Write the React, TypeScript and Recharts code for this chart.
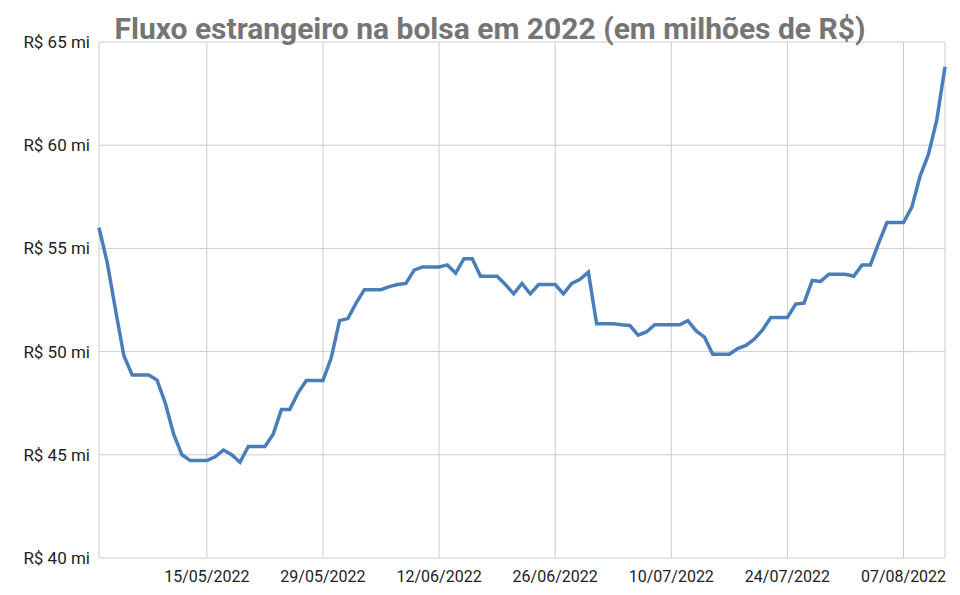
import React from 'react';
import { LineChart, Line, XAxis, YAxis, CartesianGrid } from 'recharts';

// one value per calendar day, 02/05/2022 .. 12/08/2022 (weekends repeat Friday)
const startDate = '2022-05-02';

const fluxo = [
  56.0, 54.3, 52.0, 49.8, 48.87, 48.87, 48.87,
  48.62, 47.5, 46.0, 45.0, 44.72, 44.72, 44.72,
  44.9, 45.23, 45.0, 44.64, 45.4, 45.4, 45.4,
  46.0, 47.2, 47.2, 48.0, 48.6, 48.6, 48.6,
  49.7, 51.5, 51.6, 52.35, 53.0, 53.0, 53.0,
  53.15, 53.25, 53.3, 53.95, 54.1, 54.1, 54.1,
  54.2, 53.8, 54.5, 54.5, 53.65, 53.65, 53.65,
  53.25, 52.8, 53.3, 52.8, 53.25, 53.25, 53.25,
  52.8, 53.3, 53.5, 53.85, 51.35, 51.35, 51.35,
  51.3, 51.27, 50.8, 50.95, 51.3, 51.3, 51.3,
  51.3, 51.5, 51.0, 50.7, 49.87, 49.87, 49.87,
  50.15, 50.3, 50.6, 51.05, 51.65, 51.65, 51.65,
  52.3, 52.35, 53.45, 53.4, 53.75, 53.75, 53.75,
  53.65, 54.2, 54.2, 55.25, 56.25, 56.25, 56.25,
  57.0, 58.5, 59.55, 61.2, 63.8,
];

const xTickLabels = ['15/05/2022', '29/05/2022', '12/06/2022', '26/06/2022', '10/07/2022', '24/07/2022', '07/08/2022'];
const yTicks = [40, 45, 50, 55, 60, 65];

const fmtDate = (d: Date) => {
  const dd = String(d.getUTCDate()).padStart(2, '0');
  const mm = String(d.getUTCMonth() + 1).padStart(2, '0');
  return `${dd}/${mm}/${d.getUTCFullYear()}`;
};

const dates = fluxo.map((_, i) => {
  const d = new Date(startDate + 'T00:00:00Z');
  d.setUTCDate(d.getUTCDate() + i);
  return fmtDate(d);
});

const data = fluxo.map((v, i) => ({ i, date: dates[i], fluxo: v }));
const xTicks = xTickLabels.map((l) => dates.indexOf(l));

const font = 'Roboto, "Noto Sans", sans-serif';

export default function App() {
  return (
    <div style={{ position: 'relative', width: 960, height: 595, background: '#fff', fontFamily: font }}>
      <style>{'body{margin:0}'}</style>
      <div
        style={{
          position: 'absolute',
          top: 13,
          left: 0,
          width: 980,
          textAlign: 'center',
          fontSize: 30,
          lineHeight: '32px',
          fontWeight: 700,
          color: '#757575',
          zIndex: 1,
        }}
      >
        Fluxo estrangeiro na bolsa em 2022 (em milhões de R$)
      </div>
      <LineChart width={960} height={595} data={data} margin={{ top: 42, right: 15, bottom: 0, left: 0 }}>
        <CartesianGrid stroke="#cccccc" vertical horizontal />
        <XAxis
          dataKey="i"
          type="number"
          domain={[0, fluxo.length - 1]}
          ticks={xTicks}
          tickFormatter={(i: number) => dates[i]}
          axisLine={false}
          tickLine={false}
          tickSize={6}
          tickMargin={7}
          height={37}
          tick={{ fill: '#222222', fontSize: 16, fontFamily: font }}
        />
        <YAxis
          domain={[40, 65]}
          ticks={yTicks}
          tickFormatter={(v: number) => `R$ ${v} mi`}
          axisLine={false}
          tickLine={false}
          tickSize={6}
          tickMargin={3}
          width={99}
          tick={{ fill: '#222222', fontSize: 17, fontFamily: font }}
        />
        <Line
          type="linear"
          dataKey="fluxo"
          stroke="#4a7ebb"
          strokeWidth={3.5}
          dot={false}
          isAnimationActive={false}
        />
      </LineChart>
    </div>
  );
}
